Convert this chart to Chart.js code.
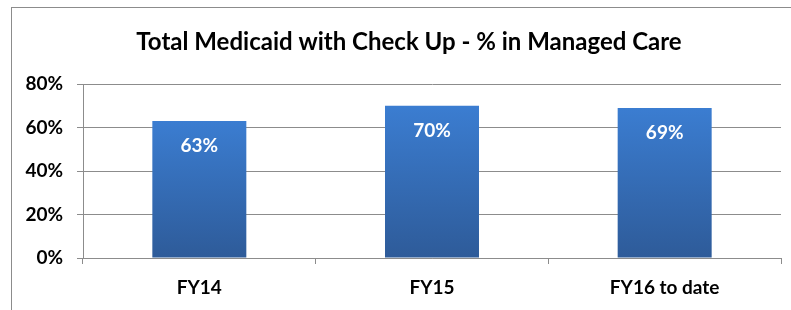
<!DOCTYPE html>
<html>
<head>
<meta charset="utf-8">
<script src="https://cdn.jsdelivr.net/npm/chart.js@4.4.1/dist/chart.umd.min.js"></script>
<style>
  html, body { margin: 0; padding: 0; background: #fff; }
  #wrap { position: relative; width: 791px; height: 310px; }
  #frame { position: absolute; left: 11px; top: 7px; right: 0; bottom: 0;
           border-left: 1px solid #8c8c8c; border-top: 1px solid #8c8c8c; }
  canvas { position: absolute; left: 0; top: 0; }
</style>
</head>
<body>
<div id="wrap">
  <div id="frame"></div>
  <canvas id="chart" width="791" height="310"></canvas>
</div>
<script>
// chart data
const categories = ['FY14', 'FY15', 'FY16 to date'];
const managedCarePct = [63, 70, 69];
const yTicks = [0, 20, 40, 60, 80];

const titleText = 'Total Medicaid with Check Up - % in Managed Care';
const fontFamily = 'Lato, "Noto Sans", sans-serif';

function barGradient(context) {
    const chart = context.chart;
    const y = chart.scales.y;
    if (!chart.chartArea || !y) return '#3670bb';
    const top = y.getPixelForValue(context.raw);
    const bottom = y.getPixelForValue(0);
    const g = chart.ctx.createLinearGradient(0, top, 0, bottom);
    g.addColorStop(0, '#3b7dd1');
    g.addColorStop(1, '#2e5b99');
    return g;
}

// title, placed a bit right of the canvas centre like the original
const chartTitle = {
    id: 'chartTitle',
    afterDraw(chart) {
        const ctx = chart.ctx;
        ctx.save();
        ctx.fillStyle = '#000';
        ctx.font = 'bold 24px ' + fontFamily;
        ctx.textAlign = 'center';
        ctx.textBaseline = 'middle';
        ctx.fillText(titleText, 409, 42);
        ctx.restore();
    }
};

// white value labels near the top of each bar
const valueLabels = {
    id: 'valueLabels',
    afterDatasetsDraw(chart) {
        const ctx = chart.ctx;
        const meta = chart.getDatasetMeta(0);
        ctx.save();
        ctx.fillStyle = '#ffffff';
        ctx.font = 'bold 19px ' + fontFamily;
        ctx.textAlign = 'center';
        ctx.textBaseline = 'middle';
        meta.data.forEach((bar, i) => {
            ctx.fillText(managedCarePct[i] + '%', bar.x, bar.y + 25);
        });
        ctx.restore();
    }
};

const chart = new Chart(document.getElementById('chart').getContext('2d'), {
    type: 'bar',
    data: {
        labels: categories,
        datasets: [{
            label: '% in Managed Care',
            data: managedCarePct,
            backgroundColor: barGradient,
            borderWidth: 0,
            categoryPercentage: 0.404,
            barPercentage: 1.0
        }]
    },
    options: {
        responsive: false,
        animation: false,
        layout: { padding: { left: 12, right: 10, top: 84, bottom: 0 } },
        plugins: {
            legend: { display: false },
            tooltip: { enabled: false },
            title: { display: false }
        },
        scales: {
            x: {
                afterFit(scale) { scale.height = 52; },
                grid: { drawOnChartArea: false, drawTicks: true, tickLength: 6, color: '#8c8c8c', offset: true },
                border: { color: '#8c8c8c', width: 1 },
                ticks: { color: '#000', padding: 12, font: { family: fontFamily, size: 19, weight: 'bold' } }
            },
            y: {
                min: 0,
                max: 80,
                afterBuildTicks(scale) {
                    scale.ticks = yTicks.map(v => ({ value: v }));
                },
                afterFit(scale) { scale.width = 71; },
                grid: { color: '#8c8c8c', tickLength: 6, drawTicks: true },
                border: { color: '#8c8c8c', width: 1 },
                ticks: {
                    color: '#000',
                    padding: 14,
                    font: { family: fontFamily, size: 19, weight: 'bold' },
                    callback: v => v + '%'
                }
            }
        }
    },
    plugins: [chartTitle, valueLabels]
});
</script>
</body>
</html>
